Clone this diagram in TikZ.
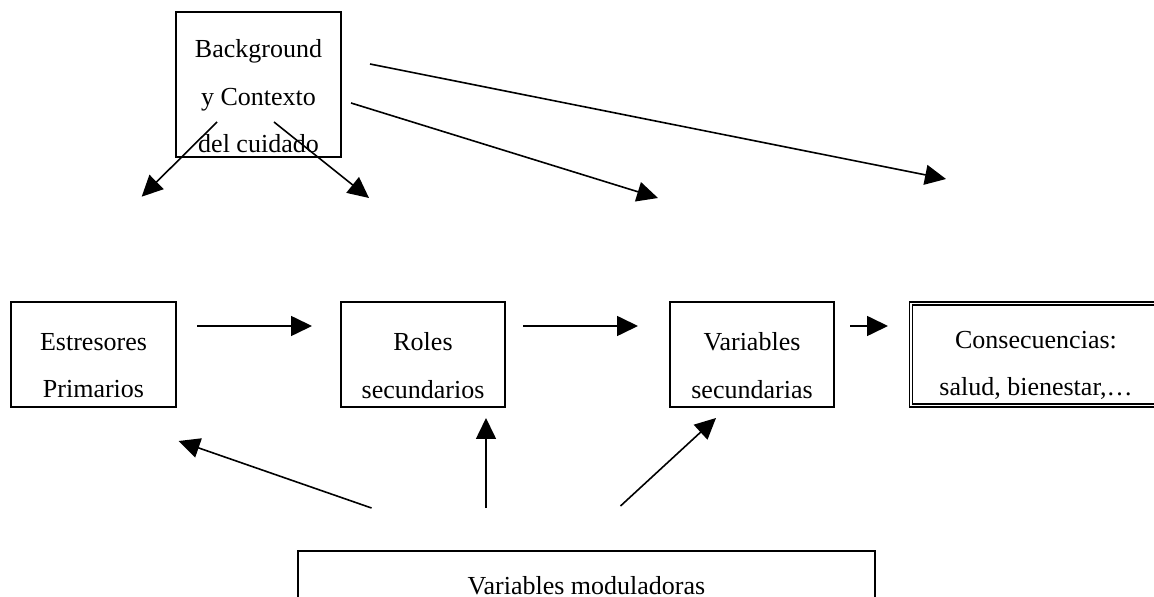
\documentclass[tikz,border=0pt]{standalone}
\usepackage{fontspec}
\setmainfont{Liberation Serif}
\usetikzlibrary{arrows.meta}
\begin{document}
\begin{tikzpicture}[x=0.5pt, y=-0.5pt,
	box/.style={draw, line width=0.95pt, rectangle, inner sep=0pt},
	lbl/.style={align=center, font=\fontsize{13}{23.75}\selectfont, inner sep=0pt},
	arr/.style={-{Triangle[length=10.5pt,width=10pt]}, line width=0.8pt}]
	\useasboundingbox (0,0) rectangle (1154,597);
	\clip (0,0) rectangle (1154,597);

	% boxes
	\node[box, minimum width=82.5pt, minimum height=72.5pt, label={[lbl, yshift=-6pt]center:{Background\\y Contexto\\del cuidado}}] (bg) at (258.5,84.5) {};
	\node[box, minimum width=82.5pt, minimum height=52.5pt, label={[lbl, yshift=-5.5pt]center:{Estresores\\Primarios}}] (estr) at (93.5,354.5) {};
	\node[box, minimum width=82pt, minimum height=52.5pt, label={[lbl, yshift=-5.5pt]center:{Roles\\secundarios}}] (roles) at (423,354.5) {};
	\node[box, minimum width=82pt, minimum height=52.5pt, label={[lbl, yshift=-5.5pt]center:{Variables\\secundarias}}] (vars) at (752,354.5) {};
	\node[box, line width=0.7pt, double, double distance=0.7pt, minimum width=125pt, minimum height=51pt, label={[lbl, yshift=-5.5pt]center:{Consecuencias:\\salud, bienestar,…}}] (cons) at (1036,354.5) {};
	\node[box, minimum width=288.5pt, minimum height=44.5pt, label={[lbl, yshift=5pt]center:{Variables moduladoras}}] (mod) at (586.5,595.5) {};

	% free arrow ends
	\coordinate (bg1) at (217,122);   \coordinate (estrtop) at (141.7,196.7);
	\coordinate (bg2) at (274,122);   \coordinate (rolestop) at (369,198);
	\coordinate (bg3) at (351,103);   \coordinate (varstop) at (658,198);
	\coordinate (bg4) at (370,64);    \coordinate (constop) at (946,179);
	\coordinate (estrout) at (197,326); \coordinate (rolesin) at (312,326);
	\coordinate (rolesout) at (523,326); \coordinate (varsin) at (638,326);
	\coordinate (varsout) at (850,326); \coordinate (consin) at (888,326);
	\coordinate (mod1) at (371.5,508); \coordinate (estrbot) at (178.7,441);
	\coordinate (mod2) at (486,508);   \coordinate (rolesbot) at (486,418);
	\coordinate (mod3) at (620.5,506); \coordinate (varsbot) at (716,418);

	% arrows
	\draw[arr] (bg1) -- (estrtop);
	\draw[arr] (bg2) -- (rolestop);
	\draw[arr] (bg3) -- (varstop);
	\draw[arr] (bg4) -- (constop);
	\draw[arr] (estrout) -- (rolesin);
	\draw[arr] (rolesout) -- (varsin);
	\draw[arr] (varsout) -- (consin);
	\draw[arr] (mod1) -- (estrbot);
	\draw[arr] (mod2) -- (rolesbot);
	\draw[arr] (mod3) -- (varsbot);
\end{tikzpicture}
\end{document}
